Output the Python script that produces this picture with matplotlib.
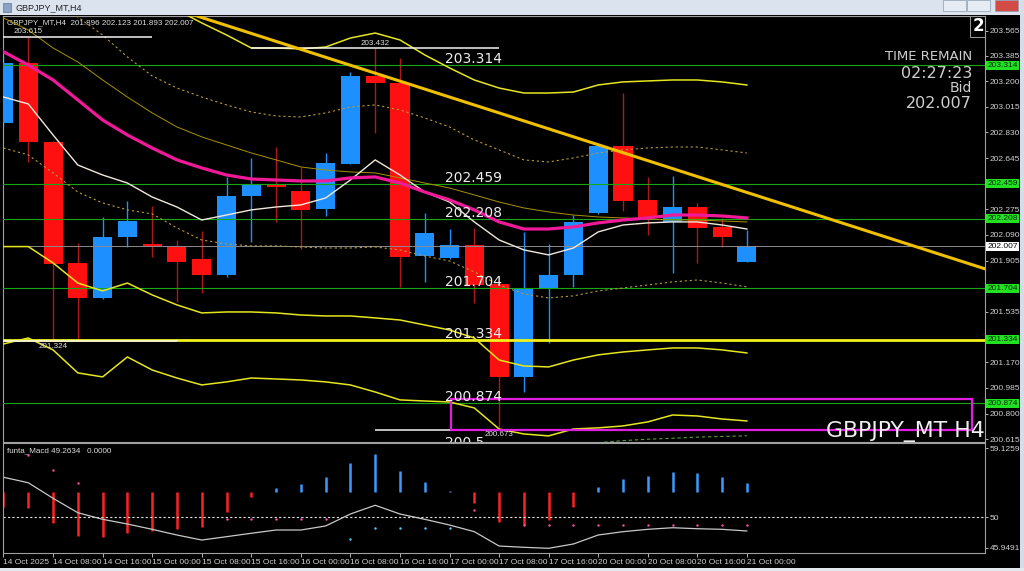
import numpy as np
import matplotlib.pyplot as plt
from matplotlib.patches import Rectangle
from matplotlib.transforms import blended_transform_factory

W, H = 1024, 571

# ------ GBPJPY_MT H4 candles ------
opens = [202.901, 203.334, 202.764, 201.886, 201.633, 202.073, 202.023, 202.005, 201.919, 201.803,
         202.371, 202.458, 202.410, 202.275, 202.603, 203.238, 203.190, 201.938, 201.922, 202.018,
         201.736, 201.062, 201.698, 201.801, 202.247, 202.733, 202.343, 202.186, 202.294, 202.146, 201.896]
highs = [203.40, 203.52, 202.77, 202.030, 202.222, 202.335, 202.301, 202.054, 202.121, 202.511,
         202.644, 202.723, 202.583, 202.680, 203.27, 203.44, 203.366, 202.247, 202.131, 202.138,
         201.745, 202.114, 202.025, 202.234, 202.745, 203.113, 202.511, 202.516, 202.319, 202.215, 202.123]
lows = [202.88, 202.619, 201.324, 201.34, 201.630, 202.001, 201.929, 201.608, 201.669, 201.784,
        202.042, 202.186, 201.987, 202.227, 202.600, 202.824, 201.717, 201.753, 201.918, 201.597,
        200.673, 200.959, 201.308, 201.717, 202.240, 202.265, 202.090, 201.818, 201.886, 202.005, 201.893]
closes = [203.334, 202.764, 201.878, 201.633, 202.073, 202.191, 202.005, 201.895, 201.803, 202.371,
          202.458, 202.439, 202.273, 202.608, 203.238, 203.185, 201.933, 202.102, 202.018, 201.729,
          201.062, 201.705, 201.801, 202.186, 202.733, 202.335, 202.218, 202.294, 202.138, 202.078, 202.007]

# indicator lines on the price chart
ma_pink = [203.413, 203.317, 203.209, 203.065, 202.920, 202.812, 202.718, 202.632, 202.574, 202.523,
           202.494, 202.487, 202.480, 202.480, 202.502, 202.509, 202.465, 202.400, 202.343, 202.271,
           202.184, 202.133, 202.133, 202.148, 202.177, 202.198, 202.213, 202.234, 202.234, 202.227, 202.213]
ma_white = [203.086, 203.036, 202.812, 202.595, 202.523, 202.465, 202.364, 202.292, 202.198, 202.234,
            202.271, 202.292, 202.307, 202.357, 202.487, 202.632, 202.523, 202.400, 202.328, 202.184,
            202.054, 201.982, 201.946, 201.996, 202.112, 202.162, 202.177, 202.184, 202.184, 202.162, 202.133]
ma_olive = [203.657, 203.570, 203.440, 203.339, 203.209, 203.086, 202.971, 202.870, 202.798, 202.740,
            202.682, 202.632, 202.581, 202.559, 202.545, 202.538, 202.502, 202.465, 202.429, 202.379,
            202.328, 202.285, 202.256, 202.234, 202.220, 202.213, 202.205, 202.198, 202.198, 202.191, 202.184]
band_upper = [204.58, 204.473, 204.364, 204.256, 204.148, 204.003, 203.859, 203.715, 203.621, 203.534,
              203.440, 203.440, 203.433, 203.447, 203.512, 203.548, 203.498, 203.390, 203.296, 203.209,
              203.151, 203.115, 203.115, 203.122, 203.173, 203.195, 203.202, 203.209, 203.209, 203.195, 203.173]
band_low1 = [202.006, 202.006, 201.888, 201.743, 201.686, 201.743, 201.657, 201.585, 201.527, 201.534,
             201.534, 201.527, 201.512, 201.505, 201.505, 201.491, 201.476, 201.440, 201.404, 201.346,
             201.187, 201.144, 201.137, 201.187, 201.224, 201.245, 201.260, 201.274, 201.274, 201.260, 201.238]
band_low2 = [201.303, 201.346, 201.260, 201.094, 201.065, 201.209, 201.115, 201.057, 201.007, 201.029,
             201.057, 201.050, 201.043, 201.029, 201.007, 200.956, 200.899, 200.891, 200.884, 200.841,
             200.689, 200.653, 200.639, 200.689, 200.697, 200.711, 200.740, 200.790, 200.783, 200.761, 200.747]
dot_upper = [204.003, 203.895, 203.787, 203.664, 203.534, 203.375, 203.238, 203.151, 203.086, 203.029,
             202.978, 202.949, 202.942, 202.971, 203.014, 203.029, 202.993, 202.935, 202.870, 202.776,
             202.704, 202.632, 202.617, 202.646, 202.682, 202.704, 202.718, 202.725, 202.725, 202.704, 202.682]
dot_lower = [202.718, 202.668, 202.538, 202.400, 202.321, 202.271, 202.242, 202.141, 202.054, 202.025,
             202.011, 202.011, 202.003, 201.996, 201.996, 202.003, 201.982, 201.938, 201.902, 201.823,
             201.729, 201.664, 201.635, 201.650, 201.686, 201.707, 201.729, 201.751, 201.765, 201.743, 201.715]
dot_green_bars = [24, 25, 26, 27, 28, 29, 30]
dot_green = [200.590, 200.605, 200.615, 200.622, 200.630, 200.635, 200.640]

# horizontal levels, trend line, objects
levels_green = [203.314, 202.459, 202.208, 201.704, 201.334, 200.874]
level_yellow = 201.334
bid = 202.007
trend_bars = [7.93, 39.53]
trend_prices = [203.664, 201.850]
marker_bars = [1, 15, 2, 20]
marker_prices = [203.52, 203.438, 201.325, 200.683]
marker_labels = ['203.615', '203.432', '201.324', '200.673']
marker_is_high = [True, True, False, False]
rect_bars = [18.06, 39.08]
rect_prices = [200.682, 200.906]
price_ticks = [203.565, 203.385, 203.200, 203.015, 202.830, 202.645, 202.275, 202.090,
               201.905, 201.535, 201.170, 200.985, 200.800, 200.615]

# ------ funta_Macd sub window ------
macd_base = 53.37
macd_hist = [51.39, 51.18, 49.28, 47.53, 47.36, 47.89, 48.23, 48.41, 48.76, 50.73,
             52.63, 53.89, 54.34, 55.27, 57.19, 58.34, 56.10, 54.69, 53.40, 51.84,
             49.41, 48.98, 49.64, 51.39, 54.03, 55.00, 55.44, 55.92, 55.79, 55.27, 54.55]
macd_signal = [55.27, 54.55, 52.50, 50.60, 49.73, 49.11, 48.41, 47.66, 47.00, 47.44,
               47.89, 48.32, 48.32, 48.85, 50.43, 51.58, 50.43, 49.73, 48.98, 48.10,
               46.21, 46.04, 45.91, 46.48, 47.66, 48.10, 48.41, 48.62, 48.49, 48.41, 48.19]
pink_dot_bars = [1, 2, 3, 9, 10, 11, 12, 13, 19, 21, 22, 23, 24, 25, 26, 27, 28, 29, 30]
pink_dot_vals = [58.20, 56.23, 54.48, 49.73, 49.73, 49.73, 49.73, 49.73, 50.96,
                 48.94, 48.94, 48.94, 48.94, 48.94, 48.94, 48.94, 48.94, 48.94, 48.94]
cyan_dot_bars = [14, 15, 16, 17, 18]
cyan_dot_vals = [47.13, 48.54, 48.54, 48.54, 48.54]
macd_ticks = [59.1259, 50, 45.9491]

time_bars = list(range(0, 31, 2))
time_labels = ['14 Oct 2025', '14 Oct 08:00', '14 Oct 16:00', '15 Oct 00:00', '15 Oct 08:00',
               '15 Oct 16:00', '16 Oct 00:00', '16 Oct 08:00', '16 Oct 16:00', '17 Oct 00:00',
               '17 Oct 08:00', '17 Oct 16:00', '20 Oct 00:00', '20 Oct 08:00', '20 Oct 16:00',
               '21 Oct 00:00']

BULL = '#1e8fff'
BEAR = '#ff1010'
AXTXT = '#d0d0d0'
SMALL = ['Liberation Sans', 'DejaVu Sans']


def box(x0, y0, x1, y1):
    # pixel box (top-left origin) -> figure fractions
    return [x0 / W, 1 - y1 / H, (x1 - x0) / W, (y1 - y0) / H]


fig = plt.figure(figsize=(W / 100, H / 100), dpi=100, facecolor='black')

# window chrome
fig.add_artist(Rectangle((0, 1 - 15 / H), 1, 15 / H, transform=fig.transFigure, fc='#dbe4ee', ec='none'))
fig.add_artist(Rectangle((1020 / W, 0), 4 / W, 1, transform=fig.transFigure, fc='#d5dde8', ec='none'))
fig.add_artist(Rectangle((0, 0), 1, 3 / H, transform=fig.transFigure, fc='#e3e8ef', ec='none'))
fig.add_artist(Rectangle((3 / W, 1 - 12 / H), 8 / W, 9 / H, transform=fig.transFigure, fc='#8aa4c4', ec='#5d7694', lw=0.5))
for bx, col in [(943, '#e6ecf3'), (967, '#e6ecf3'), (995, '#d24b45')]:
    fig.add_artist(Rectangle((bx / W, 1 - 11 / H), 23 / W, 11 / H, transform=fig.transFigure, fc=col, ec='#8a9bb0', lw=0.5))
fig.text(16 / W, 1 - 7.5 / H, 'GBPJPY_MT,H4', fontsize=6.5, color='#202020', va='center', family=SMALL)

# ------ price window ------
ax = fig.add_axes(box(3, 16, 985, 442))
ax.set_facecolor('black')
n = len(opens)
idx = np.arange(n)
xlim = (-0.02, 39.61)
ax.set_xlim(*xlim)
ax.set_ylim(200.595, 203.671)

o = np.array(opens)
c = np.array(closes)
up = c >= o
ax.vlines(idx[up], np.array(lows)[up], np.array(highs)[up], color=BULL, lw=1, zorder=2)
ax.vlines(idx[~up], np.array(lows)[~up], np.array(highs)[~up], color='#b01818', lw=1, zorder=2)
ax.bar(idx, np.maximum(np.abs(c - o), 0.006), bottom=np.minimum(o, c), width=0.77,
       color=np.where(up, BULL, BEAR), zorder=3)

# levels
for lv in levels_green:
    ax.axhline(lv, color='#14a814', lw=0.8, zorder=4)
    ax.annotate(f'{lv:.3f}', (17.82, lv), xytext=(0, 1.5), textcoords='offset points',
                color='#eeeeee', fontsize=10, va='baseline', ha='left', zorder=9)
ax.axhline(level_yellow, color='#f2f21a', lw=2.0, zorder=5)
ax.axhline(bid, color='#8a8a8a', lw=0.7, zorder=4)
cut = ax.annotate('200.5', (17.82, 200.545), xytext=(0, 1.5), textcoords='offset points',
                  color='#eeeeee', fontsize=10, va='baseline', ha='left', zorder=9, annotation_clip=False)
cut.set_clip_path(ax.patch)

# bands and averages
ax.plot(idx, band_upper, color='#e6e61e', lw=1.1, zorder=5)
ax.plot(idx, band_low1, color='#e6e61e', lw=1.1, zorder=5)
ax.plot(idx, band_low2, color='#e6e61e', lw=1.1, zorder=5)
ax.plot(idx, ma_olive, color='#a89200', lw=0.7, zorder=5)
ax.plot(idx, dot_upper, color='#b39a3a', lw=0.8, ls=(0, (2, 2.5)), zorder=5)
ax.plot(idx, dot_lower, color='#b39a3a', lw=0.8, ls=(0, (2, 2.5)), zorder=5)
ax.plot(dot_green_bars, dot_green, color='#5e9a3a', lw=0.8, ls=(0, (3, 2.5)), zorder=5)
ax.plot(idx, ma_white, color='#f0e8dc', lw=1.0, zorder=6)
ax.plot(idx, ma_pink, color='#f0199a', lw=2.3, zorder=6)

# trend line through two anchors
slope = (trend_prices[1] - trend_prices[0]) / (trend_bars[1] - trend_bars[0])
tx = np.array(xlim)
ax.plot(tx, trend_prices[0] + slope * (tx - trend_bars[0]), color='#f0c000', lw=2.2, zorder=7)

# high / low markers
for b, p, lab, hi in zip(marker_bars, marker_prices, marker_labels, marker_is_high):
    ax.hlines(p, b - 5, b + 5, color='#f4f4f4', lw=1.1, zorder=6)
    ax.text(b, p + (0.012 if hi else -0.012), lab, color='#e0e0e0', fontsize=5.8, family=SMALL,
            ha='center', va='bottom' if hi else 'top', zorder=9)

# rectangle object + symbol label
ax.add_patch(Rectangle((rect_bars[0], rect_prices[0]), rect_bars[1] - rect_bars[0],
                       rect_prices[1] - rect_prices[0], fill=False, ec='#e01ee0', lw=1.6, zorder=8))
ax.text(0.9995, 0.012, 'GBPJPY_MT H4', transform=ax.transAxes, ha='right', va='baseline',
        fontsize=15.8, color='#f0f0f0', zorder=9)

# info texts
ax.text(4 / 982, 1 - 7 / 426, 'GBPJPY_MT,H4  201.896 202.123 201.893 202.007', transform=ax.transAxes,
        fontsize=5.8, color='#e0e0e0', va='center', ha='left', family=SMALL)
ax.add_patch(Rectangle((967 / 982, 1 - 21 / 426), 18 / 982, 21 / 426, transform=ax.transAxes,
                       fill=False, ec='#9a9a9a', lw=0.7, zorder=9))
ax.text(970 / 982, 1 - 10 / 426, '2', transform=ax.transAxes, fontsize=12, weight='bold',
        color='white', va='center', ha='left', zorder=10)
ax.text(969 / 982, (442 - 56) / 426, 'TIME REMAIN', transform=ax.transAxes, fontsize=9.5,
        color='#cfcfcf', ha='right', va='center')
ax.text(969 / 982, (442 - 73) / 426, '02:27:23', transform=ax.transAxes, fontsize=11.5,
        color='#cfcfcf', ha='right', va='center')
ax.text(969 / 982, (442 - 88) / 426, 'Bid', transform=ax.transAxes, fontsize=10,
        color='#cfcfcf', ha='right', va='center')
ax.text(969 / 982, (442 - 103) / 426, '202.007', transform=ax.transAxes, fontsize=11.5,
        color='#cfcfcf', ha='right', va='center')

# price scale
ax.yaxis.tick_right()
ax.set_yticks(price_ticks)
ax.set_yticklabels([f'{t:.3f}' for t in price_ticks], family=SMALL)
ax.tick_params(axis='y', colors=AXTXT, labelsize=6, length=2, pad=1.5, width=0.6)
ax.set_xticks([])
blend = blended_transform_factory(ax.transAxes, ax.transData)
for lv in levels_green:
    ax.text(1.0025, lv, f'{lv:.3f}', transform=blend, fontsize=6, family=SMALL, color='#0a2a0a',
            va='center', ha='left', clip_on=False, zorder=10,
            bbox=dict(boxstyle='square,pad=0.12', fc='#22e022', ec='none'))
ax.text(1.0025, bid, f'{bid:.3f}', transform=blend, fontsize=6, family=SMALL, color='black',
        va='center', ha='left', clip_on=False, zorder=10,
        bbox=dict(boxstyle='square,pad=0.12', fc='white', ec='none'))
for s in ax.spines.values():
    s.set_color('#a0a0a0')
    s.set_linewidth(0.8)

# ------ MACD window ------
ax2 = fig.add_axes(box(3, 443, 985, 553))
ax2.set_facecolor('black')
ax2.set_xlim(*xlim)
ax2.set_ylim(45.29, 59.785)
hist = np.array(macd_hist)
ax2.vlines(idx, macd_base, hist, colors=np.where(hist >= macd_base, '#3a9cff', '#ff2222'), lw=1.8)
ax2.axhline(50, color='#e0e0e0', lw=0.8, ls=(0, (2, 2)))
ax2.plot(idx, macd_signal, color='#c8c8c8', lw=0.9)
ax2.scatter(pink_dot_bars, pink_dot_vals, s=3, color='#ff4fa8', zorder=4, linewidths=0)
ax2.scatter(cyan_dot_bars, cyan_dot_vals, s=3, color='#4fd0ff', zorder=4, linewidths=0)
ax2.text(4 / 982, 1 - 8 / 110, 'funta_Macd 49.2634   0.0000', transform=ax2.transAxes,
         fontsize=5.8, color='#e0e0e0', va='center', ha='left', family=SMALL)

ax2.yaxis.tick_right()
ax2.set_yticks(macd_ticks)
ax2.set_yticklabels(['59.1259', '50', '45.9491'], family=SMALL)
ax2.tick_params(axis='y', colors=AXTXT, labelsize=6, length=2, pad=1.5, width=0.6)
ax2.set_xticks(time_bars)
ax2.set_xticklabels(time_labels, family=SMALL, ha='left')
ax2.tick_params(axis='x', colors=AXTXT, labelsize=6, length=3, pad=1.5, width=0.6)
for s in ax2.spines.values():
    s.set_color('#a0a0a0')
    s.set_linewidth(0.8)

fig.savefig('out.png', dpi=100, facecolor=fig.get_facecolor())
